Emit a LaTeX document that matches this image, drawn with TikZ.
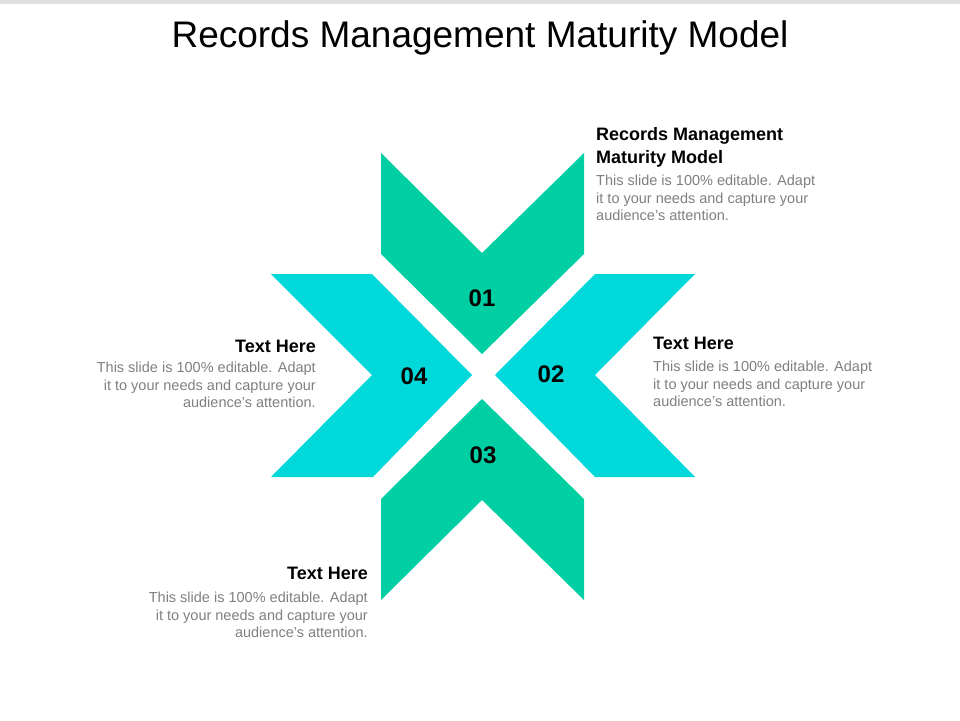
\documentclass[tikz,border=0pt]{standalone}
\usepackage{fontspec}
\setmainfont{Liberation Sans}
\definecolor{mint}{HTML}{00CFA4}
\definecolor{aqua}{HTML}{00D8DA}
\definecolor{bodygray}{HTML}{7F7F7F}
\tikzset{
  arm/.style={draw=none},
  num/.style={font=\fontsize{24}{26}\selectfont\bfseries},
  head/.style={font=\fontsize{18}{23}\selectfont\bfseries, inner sep=0pt, align=#1},
  body/.style={font=\fontsize{14.5}{17.5}\selectfont, text=bodygray, inner sep=0pt, align=#1}
}
\begin{document}
\begin{tikzpicture}[x=1pt,y=-1pt]
		\useasboundingbox (0,0) rectangle (960,720);
		\fill[gray!25] (0,0) rectangle (960,4);
		\node[font=\fontsize{37}{40}\selectfont] (title) at (480,38) {Records Management Maturity Model};
		% the four arms
		\fill[mint, arm] (381,153) -- (482,253) -- (584,153) -- (584,254) -- (482,354) -- (381,254) -- cycle;
		\fill[aqua, arm] (595,274) -- (695,274) -- (595,375) -- (695,477) -- (595,477) -- (495,375) -- cycle;
		\fill[mint, arm] (482,399) -- (584,499) -- (584,600) -- (482,500) -- (381,600) -- (381,499) -- cycle;
		\fill[aqua, arm] (271,274) -- (372,274) -- (472,375) -- (373,477) -- (271,477) -- (372,375) -- cycle;
		\node[num] (n1) at (482,298) {01};
		\node[num] (n2) at (551,374) {02};
		\node[num] (n3) at (483,455) {03};
		\node[num] (n4) at (414,376) {04};
		% texts
		\node[head=left, anchor=north west] (h1) at (596,127) {Records Management\\Maturity Model};
		\node[body=left, anchor=north west] (b1) at (596,175) {This slide is 100\% editable. Adapt\\it to your needs and capture your\\audience's attention.};
		\node[head=left, anchor=north west] (h2) at (653,337) {Text Here};
		\node[body=left, anchor=north west] (b2) at (653,361) {This slide is 100\% editable. Adapt\\it to your needs and capture your\\audience's attention.};
		\node[head=right, anchor=north east] (h4) at (316,340) {Text Here};
		\node[body=right, anchor=north east] (b4) at (316,362) {This slide is 100\% editable. Adapt\\it to your needs and capture your\\audience's attention.};
		\node[head=right, anchor=north east] (h3) at (368,567) {Text Here};
		\node[body=right, anchor=north east] (b3) at (368,592) {This slide is 100\% editable. Adapt\\it to your needs and capture your\\audience's attention.};
\end{tikzpicture}
\end{document}
